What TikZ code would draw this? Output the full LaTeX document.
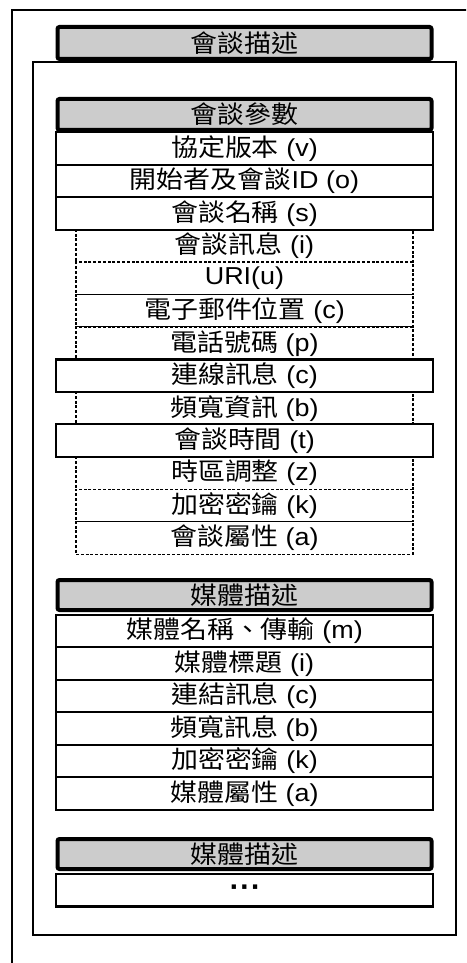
\documentclass[tikz,border=0pt]{standalone}
\usepackage{fontspec}
\setmainfont[FakeStretch=1.1]{Liberation Sans}
\newfontfamily\cjk[FakeStretch=1.1]{Noto Sans CJK TC}
\newfontfamily\dejavu{DejaVu Sans}
\newcommand{\zh}[1]{{\cjk #1}}
\tikzset{
  box/.style={inner sep=0pt, font=\fontsize{24.5}{28}\selectfont, text=black},
  hdr/.style={box, draw, line width=4pt, fill=black!20, rounded corners=2pt,
              minimum width=374pt, minimum height=31pt},
  solidrow/.style={box, draw, line width=2.2pt, fill=white,
              minimum width=377pt, minimum height=32.5pt},
  dashrow/.style={box, draw, line width=1.2pt, dash pattern=on 3pt off 1.8pt, fill=white,
              minimum width=337pt, minimum height=32.5pt},
  frame/.style={draw, line width=1.3pt}
}
\begin{document}
\begin{tikzpicture}[x=1pt, y=-1pt]
\useasboundingbox (0,0) rectangle (466,963);
\clip (0,0) rectangle (466,963);
% outer and inner frames
\draw[frame] (12,10) rectangle (490,990);
\draw[frame] (33,62) rectangle (456,935);

% session description header
\node[hdr, minimum height=32pt] (sd) at (244.5,43) {\zh{會談描述}};

% session parameters: dashed rows first
\node[dashrow] (ri) at (244.5,245.9) {\zh{會談訊息} (i)};
\node[dashrow] (ru) at (244.5,278.3) {URI(u)};
\node[dashrow] (re) at (244.5,310.8) {\zh{電子郵件位置} (c)};
\node[dashrow] (rp) at (244.5,343.3) {\zh{電話號碼} (p)};
\node[dashrow] (rb) at (244.5,408.2) {\zh{頻寬資訊} (b)};
\node[dashrow] (rz) at (244.5,473.1) {\zh{時區調整} (z)};
\node[dashrow] (rk) at (244.5,505.6) {\zh{加密密鑰} (k)};
\node[dashrow] (ra) at (244.5,538.0) {\zh{會談屬性} (a)};
% solid rows
\node[solidrow] (rv) at (244.5,148.5) {\zh{協定版本} (v)};
\node[solidrow] (ro) at (244.5,181.0) {\zh{開始者及會談}ID (o)};
\node[solidrow] (rs) at (244.5,213.4) {\zh{會談名稱} (s)};
\node[solidrow] (rc) at (244.5,375.7) {\zh{連線訊息} (c)};
\node[solidrow] (rt) at (244.5,440.6) {\zh{會談時間} (t)};
\node[hdr] (sp) at (244.5,114.5) {\zh{會談參數}};

% media description 1
\node[solidrow] (mm) at (244.5,631.0) {\zh{媒體名稱、傳輸} (m)};
\node[solidrow] (mi) at (244.5,663.5) {\zh{媒體標題} (i)};
\node[solidrow] (mc) at (244.5,696.0) {\zh{連結訊息} (c)};
\node[solidrow] (mb) at (244.5,728.5) {\zh{頻寬訊息} (b)};
\node[solidrow] (mk) at (244.5,761.0) {\zh{加密密鑰} (k)};
\node[solidrow] (ma) at (244.5,793.5) {\zh{媒體屬性} (a)};
\node[hdr, minimum height=30pt] (md1) at (244.5,595) {\zh{媒體描述}};

% media description 2
\node[solidrow] (dots) at (244.5,890.3) {{\dejavu\bfseries\fontsize{24}{28}\selectfont ·\kern1.5pt·\kern1.5pt·}};
\node[hdr, minimum height=30pt] (md2) at (244.5,854) {\zh{媒體描述}};
\end{tikzpicture}
\end{document}
